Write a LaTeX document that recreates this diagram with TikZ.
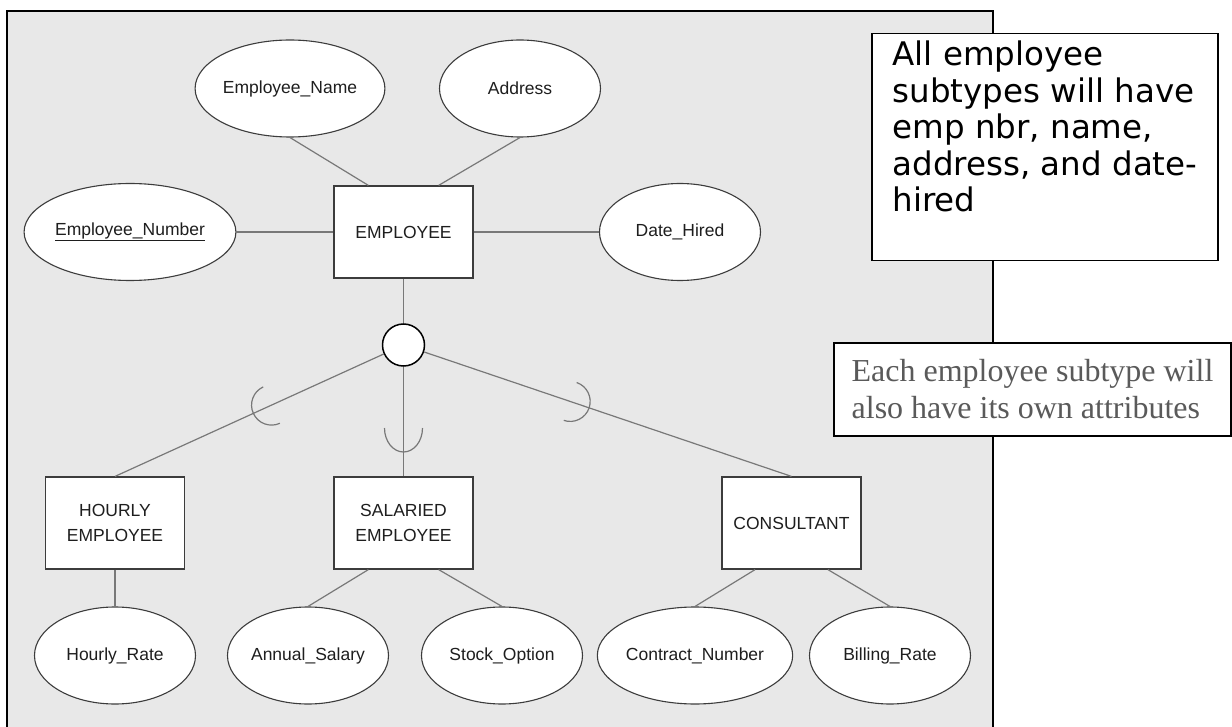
\documentclass[tikz,border=0pt]{standalone}
\usepackage{fontspec}
\usetikzlibrary{calc,shapes.geometric}
\newfontfamily\erfont{Liberation Sans}
\newfontfamily\calloutfont{DejaVu Sans}
\newfontfamily\commentfont{Liberation Serif}
\definecolor{panelgray}{RGB}{232,232,232}
\definecolor{linkgray}{RGB}{120,120,120}
\definecolor{shapegray}{RGB}{60,60,60}
\definecolor{inkgray}{RGB}{30,30,30}
\definecolor{commentgray}{RGB}{90,90,90}

\begin{document}
\begin{tikzpicture}[
 x=1pt,
 y=1pt,
 entity/.style={
  draw=shapegray,
  fill=white,
  line width=1.2pt,
  rectangle,
  inner sep=0pt,
  minimum width=139pt,
  minimum height=92pt,
  align=center,
  text=inkgray,
  font=\erfont\fontsize{17.5}{25}\selectfont,
 },
 attribute/.style={
  draw=shapegray,
  fill=white,
  line width=1.1pt,
  ellipse,
  inner sep=0pt,
  minimum width=161pt,
  minimum height=97pt,
  text=inkgray,
  font=\erfont\fontsize{17.5}{25}\selectfont,
 },
 isa/.style={
  draw=black,
  fill=white,
  circle,
  line width=1.5pt,
  inner sep=0pt,
  minimum size=42pt,
 },
 link/.style={draw=linkgray, line width=1.2pt},
 subset/.style={draw=linkgray, line width=1.2pt},
 callout/.style={
  draw=black,
  fill=white,
  line width=1.5pt,
  inner sep=0pt,
  align=left,
 }
]

\useasboundingbox (0,0) rectangle (1232,-727);
\fill[panelgray] (7,-11) rectangle (993,-727);
\draw[line width=1.8pt] (7,-727) -- (7,-11) -- (993,-11) -- (993,-727);

\node at (290,-88.5) [attribute] (empname) {Employee\_Name};
\node at (520,-88.5) [attribute] (address) {Address};
\node at (130,-232) [attribute,minimum width=170pt] (empnumber) {\underline{Employee\_Number}};
\node at (403.5,-232) [entity] (employee) {EMPLOYEE};
\node at (680,-232) [attribute] (datehired) {Date\_Hired};
\node at (403.5,-345) [isa] (isa) {};

\draw[link] (employee.127) -- (empname.south);
\draw[link] (employee.53) -- (address.south);
\draw[link] (empnumber.east) -- (employee.west);
\draw[link] (employee.east) -- (datehired.west);
\draw[link] (employee.south) -- (isa.north);

\node at (115,-523) [entity] (hourly) {HOURLY\\EMPLOYEE};
\node at (403.5,-523) [entity] (salaried) {SALARIED\\EMPLOYEE};
\node at (791.5,-523) [entity] (consultant) {CONSULTANT};

\draw[link] (isa) -- (hourly.north);
\draw[link] (isa.south) -- (salaried.north);
\draw[link] (isa) -- (consultant.north);

\draw[subset] ($(isa.center)!145pt!(hourly.north)$) ++(294.6:20) arc[start angle=294.6, end angle=114.6, radius=20];
\draw[subset] ($(isa.center)!83pt!(salaried.north)$) ++(19,0) arc[start angle=0, end angle=-180, x radius=19, y radius=24];
\draw[subset] ($(isa.center)!176pt!(consultant.north)$) ++(71.2:20) arc[start angle=71.2, end angle=-108.8, radius=20];

\node at (115,-655.5) [attribute] (hourlyrate) {Hourly\_Rate};
\node at (308,-655.5) [attribute] (annualsalary) {Annual\_Salary};
\node at (502,-655.5) [attribute] (stockoption) {Stock\_Option};
\node at (695,-655.5) [attribute] (contractnumber) {Contract\_Number};
\node at (890,-655.5) [attribute] (billingrate) {Billing\_Rate};

\draw[link] (hourly.south) -- (hourlyrate.north);
\draw[link] (salaried.233) -- (annualsalary.north);
\draw[link] (salaried.307) -- (stockoption.north);
\draw[link] (consultant.232) -- (contractnumber.north);
\draw[link] (consultant.308) -- (billingrate.north);

\node at (1045,-33) [callout,anchor=north,minimum width=346pt,font=\calloutfont\fontsize{32.5}{36.5}\selectfont] (sharednote) {\rule{0pt}{32pt}All employee\\subtypes will have\\emp nbr, name,\\address, and date-\\hired\rule[-49pt]{0pt}{49pt}};
\node at (1032.5,-389.5) [callout,minimum width=397pt,minimum height=93pt,text=commentgray,font=\commentfont\fontsize{32}{37}\selectfont] (ownnote) {Each employee subtype will\\also have its own attributes};

\end{tikzpicture}
\end{document}
